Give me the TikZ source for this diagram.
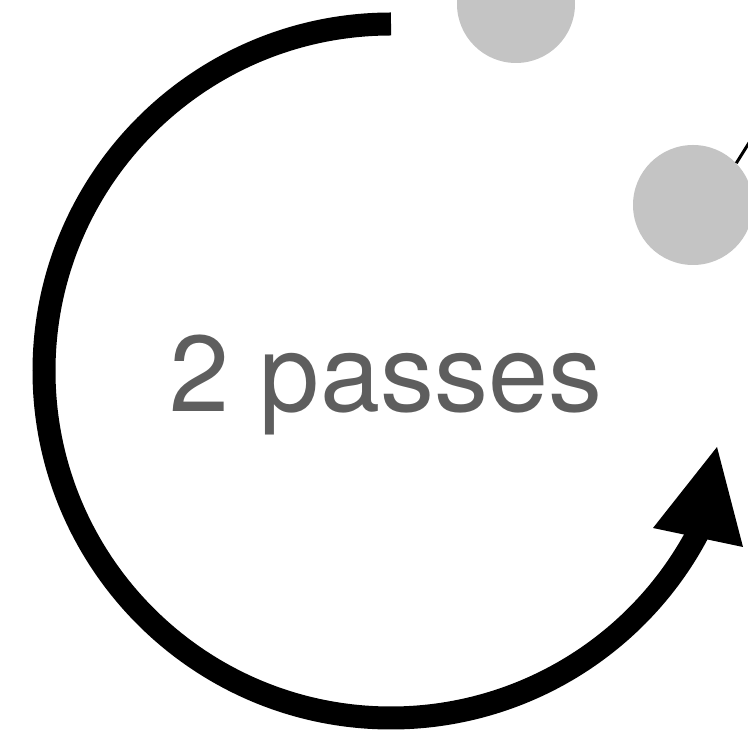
\documentclass[tikz,border=0pt]{standalone}
\usepackage{fontspec}
\setmainfont{TeX Gyre Heros}
\definecolor{dotgray}{HTML}{C4C4C4}
\definecolor{textgray}{HTML}{5E5E5E}
\begin{document}
\begin{tikzpicture}[x=1pt,y=1pt,
  dot/.style={circle,fill=dotgray,draw=none,inner sep=0pt,minimum size=#1},
  passarc/.style={line width=23pt,black},
  lbl/.style={text=textgray,font=\fontsize{108}{108}\selectfont,inner sep=0pt,anchor=base}]
\useasboundingbox (0,0) rectangle (748,731);
\clip (0,0) rectangle (748,731);
\node[dot=118pt] (c1) at (516,727) {};
\node[dot=120pt] (c2) at (693,526) {};
\draw[line width=3pt] (c2.44) -- ++(58:40);
\node[lbl] (t) at (386,319) {2 passes};
\coordinate (s) at (391,707);
\draw[passarc] (s) arc[start angle=90,end angle=333,radius=347];
\fill (653,203) -- (717,284) -- (743,184) -- cycle;
\end{tikzpicture}
\end{document}
